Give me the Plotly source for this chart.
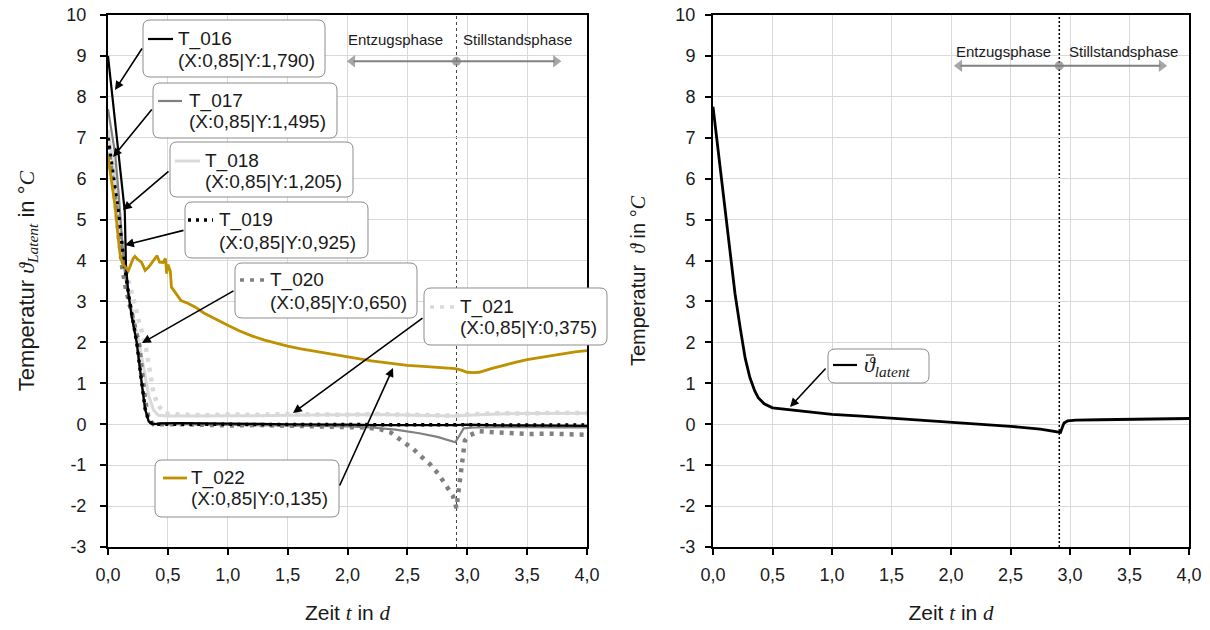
import plotly.graph_objects as go

W, H = 1210, 630

# ---------------- axis ticks ----------------
x_ticks = [0, 0.5, 1.0, 1.5, 2.0, 2.5, 3.0, 3.5, 4.0]
x_tick_text = ["0,0", "0,5", "1,0", "1,5", "2,0", "2,5", "3,0", "3,5", "4,0"]
y_ticks = [-3, -2, -1, 0, 1, 2, 3, 4, 5, 6, 7, 8, 9, 10]
y_tick_text = ["-3", "-2", "-1", "0", "1", "2", "3", "4", "5", "6", "7", "8", "9", "10"]

# time (d) at which extraction stops and the standstill begins
phase_switch = 2.91

# ---------------- sensor series (left panel) ----------------
t_016 = [0, 0.14, 0.15, 0.17, 0.2, 0.24, 0.28, 0.31, 0.34, 0.37, 0.45, 0.6, 0.8, 1.0, 1.25,
         1.5, 1.75, 2.0, 2.25, 2.5, 2.75, 2.9, 3.0, 3.25, 3.5, 3.75, 4.0]
v_016 = [9.0, 5.2, 3.9, 3.2, 2.6, 2.0, 1.05, 0.38, 0.07, 0.0, 0.02, 0.03, 0.02, 0.02, 0.01,
         0.0, 0.0, -0.01, -0.02, -0.02, -0.03, -0.02, -0.01, -0.03, -0.03, -0.04, -0.04]

t_017 = [0, 0.03, 0.06, 0.09, 0.12, 0.15, 0.18, 0.21, 0.24, 0.28, 0.31, 0.34, 0.38, 0.6, 0.8,
         1.0, 1.25, 1.5, 1.75, 2.0, 2.2, 2.4, 2.6, 2.75, 2.9, 2.93, 2.97, 3.05, 3.25, 3.5, 3.75, 4.0]
v_017 = [7.7, 7.2, 6.6, 5.6, 4.4, 3.5, 2.95, 2.5, 1.95, 1.0, 0.35, 0.06, 0.0, 0.0, -0.01,
         -0.02, -0.03, -0.03, -0.04, -0.05, -0.08, -0.13, -0.22, -0.31, -0.44, -0.3, -0.1, -0.08,
         -0.07, -0.07, -0.08, -0.08]

t_018 = [0, 0.04, 0.08, 0.11, 0.14, 0.18, 0.22, 0.26, 0.3, 0.34, 0.38, 0.42, 0.5, 0.75, 1.0,
         1.25, 1.5, 1.75, 2.0, 2.25, 2.5, 2.75, 2.9, 3.0, 3.25, 3.5, 3.75, 4.0]
v_018 = [7.2, 6.4, 5.3, 4.3, 3.7, 3.1, 2.5, 2.0, 1.3, 0.7, 0.35, 0.22, 0.2, 0.2, 0.2,
         0.21, 0.22, 0.22, 0.23, 0.24, 0.23, 0.22, 0.2, 0.22, 0.25, 0.26, 0.27, 0.27]

t_019 = [0, 0.03, 0.06, 0.09, 0.12, 0.15, 0.18, 0.21, 0.24, 0.28, 0.31, 0.34, 0.38, 0.45, 0.6,
         0.8, 1.0, 1.5, 2.0, 2.5, 2.9, 3.0, 3.5, 4.0]
v_019 = [7.0, 6.4, 5.8, 5.1, 4.3, 3.6, 3.0, 2.5, 2.0, 1.05, 0.38, 0.07, 0.0, 0.0, 0.0,
         0.0, 0.0, 0.0, 0.0, -0.02, 0.0, -0.02, -0.02, -0.02]

t_020 = [0, 0.03, 0.06, 0.09, 0.12, 0.15, 0.18, 0.21, 0.24, 0.26, 0.28, 0.31, 0.34, 0.38, 0.6,
         0.8, 1.0, 1.25, 1.5, 1.75, 2.0, 2.15, 2.27, 2.36, 2.45, 2.55, 2.62, 2.69, 2.76, 2.83,
         2.88, 2.91, 2.94, 2.96, 2.98, 3.02, 3.1, 3.25, 3.4, 3.52, 3.7, 3.85, 4.0]
v_020 = [6.8, 6.2, 5.5, 4.6, 3.8, 3.3, 2.9, 2.5, 2.15, 1.95, 1.4, 0.6, 0.12, 0.0, 0.0,
         -0.02, -0.03, -0.02, -0.03, -0.04, -0.05, -0.08, -0.12, -0.2, -0.4, -0.61, -0.8, -0.98,
         -1.22, -1.51, -1.75, -2.05, -1.34, -0.66, -0.4, -0.27, -0.17, -0.2, -0.22, -0.24,
         -0.23, -0.25, -0.26]

t_021 = [0, 0.04, 0.08, 0.11, 0.14, 0.17, 0.21, 0.25, 0.28, 0.31, 0.35, 0.38, 0.42, 0.48, 0.6,
         0.8, 1.0, 1.25, 1.5, 1.75, 2.0, 2.25, 2.5, 2.75, 2.9, 3.0, 3.25, 3.5, 3.75, 4.0]
v_021 = [6.9, 6.3, 5.4, 4.6, 3.9, 3.5, 3.1, 2.6, 2.3, 1.97, 1.3, 0.75, 0.45, 0.26, 0.24,
         0.22, 0.24, 0.23, 0.25, 0.24, 0.23, 0.25, 0.24, 0.22, 0.21, 0.24, 0.27, 0.26, 0.28, 0.27]

t_022 = [0, 0.03, 0.06, 0.085, 0.1, 0.12, 0.14, 0.17, 0.19, 0.21, 0.225, 0.25, 0.28, 0.31, 0.34,
         0.38, 0.41, 0.43, 0.46, 0.48, 0.49, 0.5, 0.52, 0.53, 0.56, 0.61, 0.67, 0.73, 0.8, 0.9,
         1.0, 1.1, 1.2, 1.3, 1.4, 1.5, 1.6, 1.7, 1.8, 1.9, 2.0, 2.1, 2.2, 2.3, 2.4, 2.5, 2.6,
         2.7, 2.8, 2.9, 2.95, 3.0, 3.05, 3.1, 3.2, 3.3, 3.4, 3.5, 3.6, 3.7, 3.8, 3.9, 4.0]
v_022 = [6.55, 5.96, 5.31, 4.57, 4.17, 3.93, 3.85, 3.75, 3.9, 4.05, 4.1, 4.02, 3.96, 3.76, 3.84,
         4.0, 4.12, 3.96, 3.95, 4.05, 3.68, 3.9, 3.75, 3.35, 3.23, 3.02, 2.95, 2.86, 2.72, 2.56,
         2.42, 2.28, 2.16, 2.06, 1.98, 1.91, 1.85, 1.8, 1.75, 1.7, 1.64, 1.6, 1.55, 1.51, 1.47,
         1.44, 1.42, 1.4, 1.38, 1.36, 1.32, 1.27, 1.26, 1.27, 1.36, 1.44, 1.51, 1.58, 1.63,
         1.68, 1.73, 1.77, 1.80]

sensor_names = ["T_016", "T_017", "T_018", "T_019", "T_020", "T_021", "T_022"]
sensor_pos = ["(X:0,85|Y:1,790)", "(X:0,85|Y:1,495)", "(X:0,85|Y:1,205)", "(X:0,85|Y:0,925)",
              "(X:0,85|Y:0,650)", "(X:0,85|Y:0,375)", "(X:0,85|Y:0,135)"]

# ---------------- mean latent temperature (right panel) ----------------
t_mean = [0, 0.148, 0.155, 0.17, 0.185, 0.23, 0.27, 0.31, 0.35, 0.38, 0.43, 0.5, 0.6, 0.8, 1.0,
          1.25, 1.5, 1.75, 2.0, 2.25, 2.5, 2.75, 2.92, 2.935, 2.95, 2.98, 3.05, 3.25, 3.5, 3.75, 4.0]
v_mean = [7.76, 4.04, 3.9, 3.6, 3.19, 2.33, 1.62, 1.14, 0.82, 0.65, 0.5, 0.40, 0.37, 0.31, 0.24,
          0.2, 0.15, 0.1, 0.05, 0.0, -0.05, -0.12, -0.2, -0.08, 0.03, 0.08, 0.1, 0.11, 0.12, 0.13, 0.14]

# ---------------- styling ----------------
FONT = "Liberation Sans, Arial, sans-serif"
MATH = "font-family:Liberation Serif;font-style:italic"
TXT = "#1a1a1a"
GRID = "#d9d9d9"
PHASE_GRAY = "#808080"

styles = {
    "T_016": dict(color="#000000", width=2.2, dash="solid"),
    "T_017": dict(color="#808080", width=2.2, dash="solid"),
    "T_018": dict(color="#d9d9d9", width=3.0, dash="solid"),
    "T_019": dict(color="#000000", width=3.5, dash="3px,5px"),
    "T_020": dict(color="#808080", width=4.5, dash="4px,6px"),
    "T_021": dict(color="#d9d9d9", width=4.5, dash="4px,6px"),
    "T_022": dict(color="#bf9000", width=2.8, dash="solid"),
}
draw_order = ["T_021", "T_018", "T_020", "T_017", "T_016", "T_019", "T_022"]
series_data = {
    "T_016": (t_016, v_016), "T_017": (t_017, v_017), "T_018": (t_018, v_018),
    "T_019": (t_019, v_019), "T_020": (t_020, v_020), "T_021": (t_021, v_021),
    "T_022": (t_022, v_022),
}

# plot area in pixels
L1, R1 = 108, 587
L2, R2 = 713, 1189
TOP, BOT = 15, 547


def fx(px):
    return px / W


def fy(py):
    return 1 - py / H


def px_to_data1(px, py):
    return ((px - L1) / (R1 - L1) * 4.0, 10 - (py - TOP) / (BOT - TOP) * 13.0)


def px_to_data2(px, py):
    return ((px - L2) / (R2 - L2) * 4.0, 10 - (py - TOP) / (BOT - TOP) * 13.0)


def rrect(x0, y0, x1, y1, r=7):
    P = lambda x, y: f"{fx(x):.5f},{fy(y):.5f}"
    return (f"M {P(x0 + r, y0)} L {P(x1 - r, y0)} Q {P(x1, y0)} {P(x1, y0 + r)} "
            f"L {P(x1, y1 - r)} Q {P(x1, y1)} {P(x1 - r, y1)} L {P(x0 + r, y1)} "
            f"Q {P(x0, y1)} {P(x0, y1 - r)} L {P(x0, y0 + r)} Q {P(x0, y0)} {P(x0 + r, y0)} Z")


fig = go.Figure()

for name in draw_order:
    t, v = series_data[name]
    st = styles[name]
    fig.add_trace(go.Scatter(x=t, y=v, mode="lines", name=name, xaxis="x", yaxis="y",
                             line=dict(color=st["color"], width=st["width"], dash=st["dash"]),
                             hoverinfo="skip"))

fig.add_trace(go.Scatter(x=t_mean, y=v_mean, mode="lines", name="mean", xaxis="x2", yaxis="y2",
                         line=dict(color="#000000", width=2.8), hoverinfo="skip"))

shapes = []
annotations = []

# phase boundary lines
shapes.append(dict(type="line", xref="x", yref="y", x0=phase_switch, x1=phase_switch, y0=-3, y1=10,
                   line=dict(color="#404040", width=1, dash="3px,3px"), layer="below"))
shapes.append(dict(type="line", xref="x2", yref="y2", x0=phase_switch, x1=phase_switch, y0=-3, y1=10,
                   line=dict(color="#000000", width=1.5, dash="2px,2px"), layer="below"))

# phase double arrows (line + heads + centre dot) and labels
for xr, yr, yline, ytext, xl, xrgt, xt1, xt2 in [
        ("x", "y", 8.87, 9.40, 2.0, 3.78, 2.40, 3.42),
        ("x2", "y2", 8.76, 9.10, 2.03, 3.81, 2.44, 3.45)]:
    fig.add_trace(go.Scatter(x=[xl + 0.05, xrgt - 0.05], y=[yline, yline], mode="lines",
                             xaxis=xr, yaxis=yr, line=dict(color=PHASE_GRAY, width=2.2),
                             hoverinfo="skip"))
    fig.add_trace(go.Scatter(x=[xl + 0.04, phase_switch, xrgt - 0.04], y=[yline] * 3,
                             mode="markers", xaxis=xr, yaxis=yr, hoverinfo="skip",
                             marker=dict(color=PHASE_GRAY, size=[11, 9, 11],
                                         symbol=["triangle-left", "circle", "triangle-right"],
                                         line=dict(width=0))))
    annotations.append(dict(xref=xr, yref=yr, x=xt1, y=ytext, text="Entzugsphase", showarrow=False,
                            font=dict(size=15, color=TXT, family=FONT)))
    annotations.append(dict(xref=xr, yref=yr, x=xt2, y=ytext, text="Stillstandsphase", showarrow=False,
                            font=dict(size=15, color=TXT, family=FONT)))

# callouts: box (px), sample line (x0, x1, y), text x, line-1 y, line-2 y, arrow tip px, arrow tail px
callouts = {
    "T_016": ((143, 20, 325, 77), (148, 173, 39), 176, 39, 60, (115, 90), (143, 47)),
    "T_017": ((153, 83, 337, 138), (158, 182, 101), 187, 101, 122, (113, 157), (153, 108)),
    "T_018": ((170, 142, 353, 197), (175, 200, 161), 203, 161, 181, (123, 210), (170, 170)),
    "T_019": ((185, 202, 368, 258), (188, 213, 220), 217, 220, 243, (125, 245), (185, 230)),
    "T_020": ((235, 263, 417, 318), (240, 265, 280), 268, 280, 302, (142, 343), (235, 290)),
    "T_021": ((424, 288, 607, 345), (430, 455, 307), 458, 307, 327, (293, 413), (424, 317)),
    "T_022": ((155, 460, 339, 517), (163, 187, 478), 189, 478, 498, (393, 368), (339, 487)),
}

for name, pos_label in zip(sensor_names, sensor_pos):
    box, samp, tx, ty1, ty2, tip, tail = callouts[name]
    st = styles[name]
    tipx, tipy = px_to_data1(*tip)
    tailx, taily = px_to_data1(*tail)
    annotations.append(dict(xref="x", yref="y", axref="x", ayref="y", x=tipx, y=tipy,
                            ax=tailx, ay=taily, showarrow=True, arrowhead=2, arrowsize=1.1,
                            arrowwidth=1.6, arrowcolor="#000000", standoff=0, startstandoff=0,
                            text=""))
    shapes.append(dict(type="path", xref="paper", yref="paper", path=rrect(*box),
                       fillcolor="#ffffff", line=dict(color="#8c8c8c", width=1), layer="above"))
    shapes.append(dict(type="line", xref="paper", yref="paper", x0=fx(samp[0]), x1=fx(samp[1]),
                       y0=fy(samp[2]), y1=fy(samp[2]), layer="above",
                       line=dict(color=st["color"], width=min(st["width"], 3.5), dash=st["dash"])))
    annotations.append(dict(xref="paper", yref="paper", x=fx(tx), y=fy(ty1), xanchor="left",
                            yanchor="middle", text=name, showarrow=False,
                            font=dict(size=19, color=TXT, family=FONT)))
    annotations.append(dict(xref="paper", yref="paper", x=fx(tx), y=fy(ty2), xanchor="left",
                            yanchor="middle", text=pos_label, showarrow=False,
                            font=dict(size=19, color=TXT, family=FONT)))

# legend callout on the right panel
tipx, tipy = px_to_data2(790, 407)
tailx, taily = px_to_data2(827, 367)
annotations.append(dict(xref="x2", yref="y2", axref="x2", ayref="y2", x=tipx, y=tipy, ax=tailx,
                        ay=taily, showarrow=True, arrowhead=2, arrowsize=1.1, arrowwidth=1.6,
                        arrowcolor="#000000", standoff=0, startstandoff=0, text=""))
shapes.append(dict(type="path", xref="paper", yref="paper", path=rrect(828, 349, 929, 383),
                   fillcolor="#ffffff", line=dict(color="#8c8c8c", width=1), layer="above"))
shapes.append(dict(type="line", xref="paper", yref="paper", x0=fx(833), x1=fx(857),
                   y0=fy(365), y1=fy(365), layer="above", line=dict(color="#000000", width=2.2)))
# bar over the theta (mean value)
shapes.append(dict(type="line", xref="paper", yref="paper", x0=fx(866), x1=fx(874),
                   y0=fy(355), y1=fy(355), layer="above", line=dict(color=TXT, width=1.2)))
annotations.append(dict(xref="paper", yref="paper", x=fx(862), y=fy(366), xanchor="left",
                        yanchor="middle", showarrow=False,
                        text=f'<span style="{MATH}">ϑ<sub>latent</sub></span>',
                        font=dict(size=22, color=TXT, family=FONT)))

# axis title texts
title_y1 = f'Temperatur <span style="{MATH}">ϑ<sub>Latent</sub></span> in °<span style="{MATH}">C</span>'
title_y2 = f'Temperatur  <span style="{MATH}">ϑ</span> in °<span style="{MATH}">C</span>'
title_x = f'Zeit <span style="{MATH}">t</span> in <span style="{MATH}">d</span>'

axis_common = dict(showgrid=True, gridcolor=GRID, gridwidth=1, showline=True, linecolor="#000000",
                   linewidth=2, mirror=True, ticks="outside", ticklen=6, tickwidth=1.5,
                   tickcolor="#000000", zeroline=False, automargin=False,
                   tickfont=dict(size=18, color=TXT, family=FONT))

fig.update_layout(
    template="none",
    width=W, height=H, autosize=False,
    margin=dict(l=0, r=0, t=0, b=0, pad=0),
    paper_bgcolor="#ffffff", plot_bgcolor="#ffffff",
    showlegend=False,
    font=dict(family=FONT, color=TXT),
    xaxis=dict(domain=[fx(L1), fx(R1)], range=[0, 4], tickvals=x_ticks, ticktext=x_tick_text,
               anchor="y", ticklabelstandoff=4,
               title=dict(text=title_x, font=dict(size=21, color=TXT, family=FONT), standoff=22),
               **axis_common),
    yaxis=dict(domain=[fy(BOT), fy(TOP)], range=[-3, 10], tickvals=y_ticks, ticktext=y_tick_text,
               anchor="x", ticklabelstandoff=10,
               title=dict(text=title_y1, font=dict(size=22, color=TXT, family=FONT), standoff=26),
               **axis_common),
    xaxis2=dict(domain=[fx(L2), fx(R2)], range=[0, 4], tickvals=x_ticks, ticktext=x_tick_text,
                anchor="y2", ticklabelstandoff=4,
                title=dict(text=title_x, font=dict(size=21, color=TXT, family=FONT), standoff=22),
                **axis_common),
    yaxis2=dict(domain=[fy(BOT), fy(TOP)], range=[-3, 10], tickvals=y_ticks, ticktext=y_tick_text,
                anchor="x2", ticklabelstandoff=6,
                title=dict(text=title_y2, font=dict(size=20, color=TXT, family=FONT), standoff=24),
                **axis_common),
    shapes=shapes,
    annotations=annotations,
)

fig.write_html("out.html")
